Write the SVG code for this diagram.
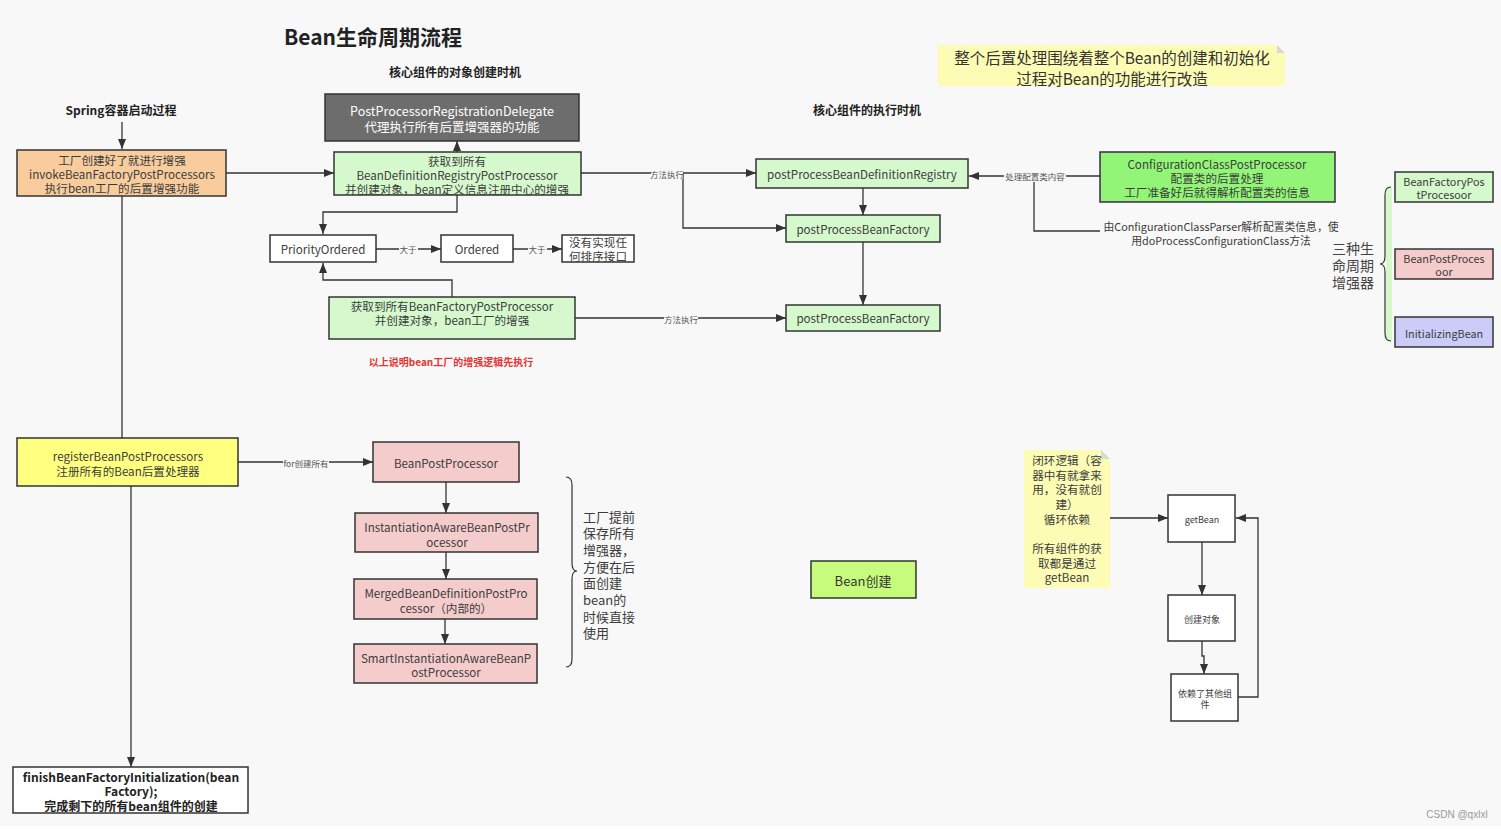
<svg xmlns="http://www.w3.org/2000/svg" width="1501" height="829" viewBox="0 0 1501 829">
<defs>
<marker id="ah" viewBox="0 0 10 10" refX="10" refY="5" markerWidth="10" markerHeight="10" markerUnits="userSpaceOnUse" orient="auto"><path d="M0,1 L10,5 L0,9 z" fill="#333"/></marker>
<style>
text{font-family:"Noto Sans CJK SC","Noto Sans",sans-serif;fill:#3c3c3c;text-anchor:middle;dominant-baseline:central}
.n{stroke:#333;stroke-width:1.5}
.t12{font-size:11.6px}
.t11{font-size:10.8px}
.t9{font-size:9px}
.hd{font-size:12px;font-weight:bold;fill:#222}
.c{fill:none;stroke:#333;stroke-width:1.3}
.a{marker-end:url(#ah)}
.lbl{font-size:8.5px;fill:#555}
.lg{fill:#d5f9cc}
.pk{fill:#f5cccc}
.wh{fill:#fff}
.side{font-size:13px;text-anchor:start}
</style>
</defs>
<rect x="0" y="0" width="1501" height="829" fill="#f8f8f8"/>
<rect x="0" y="826" width="1501" height="3" fill="#fff"/>
<text x="373" y="36" style="font-size:21px;font-weight:bold;fill:#222">Bean生命周期流程</text>
<text x="455" y="71" class="hd">核心组件的对象创建时机</text>
<text x="121" y="109" class="hd">Spring容器启动过程</text>
<text x="867" y="109" class="hd">核心组件的执行时机</text>

<g id="connectors">
<path class="c a" d="M122,122 V149"/>
<path class="c a" d="M226,173 H334"/>
<path class="c a" d="M457,152 V141"/>
<path class="c a" d="M457,195 V212 H323 V234"/>
<path class="c a" d="M376,249 H441"/>
<path class="c a" d="M513,249 H562"/>
<path class="c a" d="M452,297 V280 H323 V263"/>
<path class="c a" d="M581,173 H756"/>
<path class="c a" d="M683,173 V228 H786"/>
<path class="c a" d="M575,318 H786"/>
<path class="c a" d="M863,188 V215"/>
<path class="c a" d="M863,242 V305"/>
<path class="c a" d="M1100,176 H969"/>
<path class="c" d="M1034,176 V231 H1100"/>
<path class="c" d="M122,196 V438"/>
<path class="c a" d="M131,486 V767"/>
<path class="c a" d="M238,462 H373"/>
<path class="c a" d="M446,482 V513"/>
<path class="c a" d="M446,552 V579"/>
<path class="c a" d="M445,619 V644"/>
<path class="c a" d="M1110,518 H1168"/>
<path class="c a" d="M1202,542 V595"/>
<path class="c a" d="M1202,641 V656 H1204 V674"/>
<path class="c a" d="M1238,697 H1258 V518 H1236"/>
<rect x="651" y="168" width="32" height="11" fill="#f8f8f8"/>
<text x="667" y="173.5" class="lbl">方法执行</text>
<rect x="664" y="313" width="34" height="11" fill="#f8f8f8"/>
<text x="681" y="318.5" class="lbl">方法执行</text>
<rect x="1004" y="171" width="62" height="11" fill="#f8f8f8"/>
<text x="1035" y="176" class="lbl">处理配置类内容</text>
<rect x="399" y="244" width="19" height="11" fill="#f8f8f8"/>
<text x="408" y="249" class="lbl">大于</text>
<rect x="528" y="244" width="19" height="11" fill="#f8f8f8"/>
<text x="537" y="249" class="lbl">大于</text>
<rect x="283" y="457" width="46" height="11" fill="#f8f8f8"/>
<text x="306" y="463" class="lbl">for创建所有</text>
</g>

<g id="orange">
<rect x="17" y="150" width="209" height="46" fill="#f8cc9d" class="n"/>
<text x="122" y="160" class="t12">工厂创建好了就进行增强</text>
<text x="122" y="174" class="t12">invokeBeanFactoryPostProcessors</text>
<text x="122" y="188" class="t12">执行bean工厂的后置增强功能</text>
</g>
<g id="delegate">
<rect x="325" y="94" width="254" height="47" fill="#6d6d6d" class="n"/>
<text x="452" y="110" style="font-size:12.5px;fill:#fff">PostProcessorRegistrationDelegate</text>
<text x="452" y="126" style="font-size:12.5px;fill:#fff">代理执行所有后置增强器的功能</text>
</g>
<g id="getRegistry">
<rect x="334" y="152" width="247" height="43" class="n lg"/>
<text x="457" y="161" class="t12">获取到所有</text>
<text x="457" y="175" class="t12">BeanDefinitionRegistryPostProcessor</text>
<text x="457" y="189" class="t12">并创建对象，bean定义信息注册中心的增强</text>
</g>
<g id="priority">
<rect x="270" y="235" width="106" height="27" class="n wh"/>
<text x="323" y="249" class="t12">PriorityOrdered</text>
</g>
<g id="ordered">
<rect x="441" y="235" width="72" height="27" class="n wh"/>
<text x="477" y="249" class="t12">Ordered</text>
</g>
<g id="none">
<rect x="562" y="235" width="72" height="27" class="n wh"/>
<text x="598" y="242" class="t12">没有实现任</text>
<text x="598" y="256" class="t12">何排序接口</text>
</g>
<g id="getFactory">
<rect x="329" y="297" width="246" height="42" class="n lg"/>
<text x="452" y="306" class="t12">获取到所有BeanFactoryPostProcessor</text>
<text x="452" y="320" class="t12">并创建对象，bean工厂的增强</text>
</g>
<text x="451" y="361" style="font-size:10px;font-weight:bold;fill:#e53333">以上说明bean工厂的增强逻辑先执行</text>

<g id="ppbdr">
<rect x="756" y="159" width="212" height="29" class="n lg"/>
<text x="862" y="174" class="t12">postProcessBeanDefinitionRegistry</text>
</g>
<g id="ppbf1">
<rect x="786" y="215" width="154" height="27" class="n lg"/>
<text x="863" y="229" class="t12">postProcessBeanFactory</text>
</g>
<g id="ppbf2">
<rect x="786" y="305" width="154" height="26" class="n lg"/>
<text x="863" y="318" class="t12">postProcessBeanFactory</text>
</g>
<g id="ccpp">
<rect x="1100" y="152" width="235" height="50" fill="#93f577" stroke="#3a2a44" stroke-width="1.5"/>
<text x="1217" y="164" class="t12">ConfigurationClassPostProcessor</text>
<text x="1217" y="178" class="t12">配置类的后置处理</text>
<text x="1217" y="192" class="t12">工厂准备好后就得解析配置类的信息</text>
</g>
<text x="1221" y="226" class="t11">由ConfigurationClassParser解析配置类信息，使</text>
<text x="1221" y="240" class="t11">用doProcessConfigurationClass方法</text>

<g id="note1">
<path d="M938,45 H1277 L1285,53 V86 H938 Z" fill="#fdfcb5"/>
<path d="M1277,45 L1285,53 H1277 Z" fill="#d8d8d8"/>
<text x="1112" y="57" style="font-size:15.5px;fill:#333">整个后置处理围绕着整个Bean的创建和初始化</text>
<text x="1112" y="78" style="font-size:15.5px;fill:#333">过程对Bean的功能进行改造</text>
</g>

<g id="brace3">
<rect x="1386" y="187" width="6" height="154" fill="#d5f9cc"/>
<path d="M1391,187 Q1385,187 1385,195 V256 Q1385,264 1380,264 Q1385,264 1385,272 V333 Q1385,341 1391,341" fill="none" stroke="#333" stroke-width="1.2"/>
<text x="1353" y="248" style="font-size:14px;fill:#444">三种生</text>
<text x="1353" y="265" style="font-size:14px;fill:#444">命周期</text>
<text x="1353" y="282" style="font-size:14px;fill:#444">增强器</text>
</g>
<g id="bfpp">
<rect x="1395" y="172" width="98" height="30" class="n lg"/>
<text x="1444" y="181" class="t11">BeanFactoryPos</text>
<text x="1444" y="194" class="t11">tProcesoor</text>
</g>
<g id="bpp">
<rect x="1395" y="249" width="98" height="30" class="n pk"/>
<text x="1444" y="258" class="t11">BeanPostProces</text>
<text x="1444" y="271" class="t11">oor</text>
</g>
<g id="initbean">
<rect x="1395" y="317" width="98" height="30" fill="#ccccf9" class="n"/>
<text x="1444" y="333" class="t11">InitializingBean</text>
</g>

<g id="register">
<rect x="17" y="438" width="221" height="48" fill="#ffff80" class="n"/>
<text x="128" y="456" class="t12">registerBeanPostProcessors</text>
<text x="128" y="471" class="t12">注册所有的Bean后置处理器</text>
</g>
<g id="bpp2">
<rect x="373" y="442" width="146" height="40" class="n pk"/>
<text x="446" y="463" class="t12">BeanPostProcessor</text>
</g>
<g id="iabpp">
<rect x="355" y="513" width="183" height="39" class="n pk"/>
<text x="447" y="527" class="t12">InstantiationAwareBeanPostPr</text>
<text x="447" y="542" class="t12">ocessor</text>
</g>
<g id="mbdpp">
<rect x="354" y="579" width="183" height="40" class="n pk"/>
<text x="446" y="593" class="t12">MergedBeanDefinitionPostPro</text>
<text x="446" y="608" class="t12">cessor（内部的）</text>
</g>
<g id="siabpp">
<rect x="354" y="644" width="183" height="39" class="n pk"/>
<text x="446" y="658" class="t12">SmartInstantiationAwareBeanP</text>
<text x="446" y="672" class="t12">ostProcessor</text>
</g>
<g id="brace2">
<path d="M566,477 Q572,477 572,485 V563 Q572,571 577,571 Q572,571 572,579 V659 Q572,667 566,667" fill="none" stroke="#333" stroke-width="1.2"/>
<text x="583" y="516" class="side">工厂提前</text>
<text x="583" y="532" class="side">保存所有</text>
<text x="583" y="549" class="side">增强器，</text>
<text x="583" y="566" class="side">方便在后</text>
<text x="583" y="582" class="side">面创建</text>
<text x="583" y="599" class="side">bean的</text>
<text x="583" y="616" class="side">时候直接</text>
<text x="583" y="632" class="side">使用</text>
</g>

<g id="finish">
<rect x="13" y="767" width="235" height="46" class="n wh"/>
<text x="131" y="776" style="font-size:12px;font-weight:bold;fill:#222">finishBeanFactoryInitialization(bean</text>
<text x="131" y="790" style="font-size:12px;font-weight:bold;fill:#222">Factory);</text>
<text x="131" y="805" style="font-size:12px;font-weight:bold;fill:#222">完成剩下的所有bean组件的创建</text>
</g>

<g id="beanCreate">
<rect x="811" y="561" width="105" height="37" fill="#c6fb7b" class="n"/>
<text x="863" y="580" style="font-size:13px;fill:#333">Bean创建</text>
</g>

<g id="note2">
<path d="M1024,450 H1101 L1110,459 V588 H1024 Z" fill="#fdfcb5"/>
<path d="M1101,450 L1110,459 H1101 Z" fill="#d8d8d8"/>
<text x="1067" y="460" class="t12">闭环逻辑（容</text>
<text x="1067" y="475" class="t12">器中有就拿来</text>
<text x="1067" y="489" class="t12">用，没有就创</text>
<text x="1067" y="504" class="t12">建）</text>
<text x="1067" y="519" class="t12">循环依赖</text>
<text x="1067" y="548" class="t12">所有组件的获</text>
<text x="1067" y="563" class="t12">取都是通过</text>
<text x="1067" y="577" class="t12">getBean</text>
</g>
<g id="getBean">
<rect x="1168" y="495" width="67" height="47" class="n wh"/>
<text x="1202" y="519" class="t9">getBean</text>
</g>
<g id="createObj">
<rect x="1168" y="595" width="67" height="46" class="n wh"/>
<text x="1202" y="619" class="t9">创建对象</text>
</g>
<g id="depend">
<rect x="1171" y="674" width="67" height="47" class="n wh"/>
<text x="1205" y="693" class="t9">依赖了其他组</text>
<text x="1205" y="704" class="t9">件</text>
</g>
<text x="1457" y="814" style="font-size:10px;fill:#999;font-family:'Liberation Sans',sans-serif">CSDN @qxlxl</text>
</svg>
